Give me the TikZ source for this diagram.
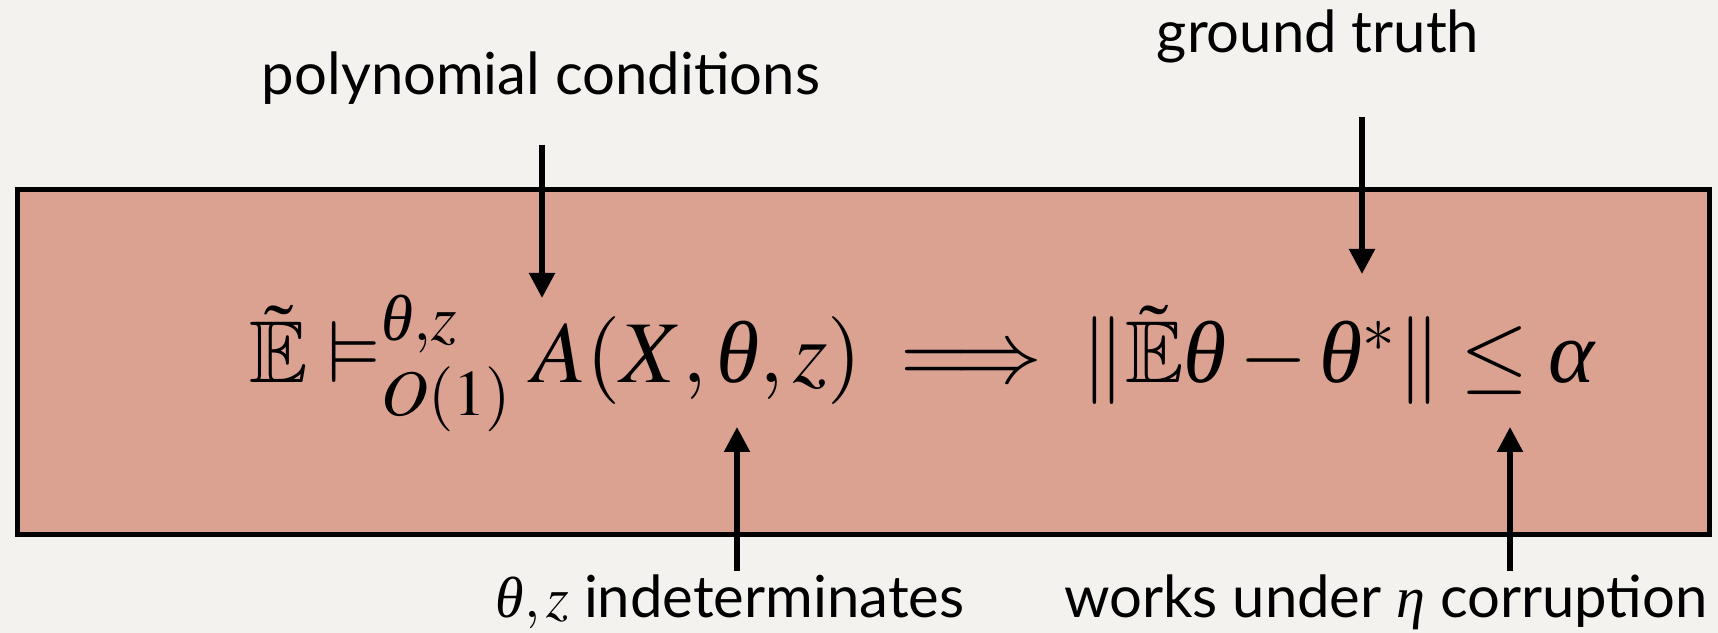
\documentclass[tikz,border=0pt]{standalone}
\usepackage{amsmath}
\usepackage{amssymb}
\usepackage{mathptmx}
\usepackage[no-math]{fontspec}
\setmainfont{Lato}
\newfontfamily\libserif{Liberation Serif}[NFSSFamily=libserif]
% thin Times-like Greek letters for the formulas
\DeclareSymbolFont{libgreek}{TU}{libserif}{m}{it}
\Umathchardef\theta="0 \symlibgreek "03B8
\Umathchardef\alpha="0 \symlibgreek "03B1
\Umathchardef\eta="0 \symlibgreek "03B7
\usepackage{tikz}
\usetikzlibrary{arrows.meta, positioning, calc}
\definecolor{mypaper}{RGB}{243,242,239}
\definecolor{mysalmon}{RGB}{219,162,145}
\definecolor{mydark}{RGB}{0,0,0}
\tikzset{
  note/.style={font=\fontsize{16.5}{20}\selectfont, inner sep=0pt, text=mydark},
  formula/.style={font=\fontsize{25}{30}\selectfont, inner sep=0pt, text=mydark},
  pointer/.style={-{Triangle[length=2.5mm, width=2.5mm]}, line width=1.5pt, color=mydark},
  panel/.style={draw=mydark, fill=mysalmon, line width=1.5pt}
}

\begin{document}
\begin{tikzpicture}
  % Paper background
  \fill[mypaper] (0,0) rectangle (17.18,6.33);

  % Main panel
  \draw[panel] (0.175,0.985) rectangle (17.095,4.435);

  % Statement
  \node[formula, anchor=base] (stmt) at (9.22,2.50)
    {$\tilde{\mathbb{E}} \vDash^{\theta,z}_{O(1)} A(X,\theta,z) \implies \|\tilde{\mathbb{E}}\theta-\theta^*\| \le \alpha$};

  % Labels above
  \node[note, anchor=base] (poly) at (5.41,5.38) {polynomial conditions};
  \node[note, anchor=base] (truth) at (13.18,5.80) {ground truth};

  % Labels below
  \node[note, anchor=base] (indet) at (7.30,0.15) {$\theta,z$ indeterminates};
  \node[note, anchor=base] (corrupt) at (13.86,0.15) {works under $\eta$ corruption};

  % Arrow tips
  \coordinate (polyTip) at (5.42,3.35);
  \coordinate (truthTip) at (13.62,3.59);
  \coordinate (indetTip) at (7.37,2.06);
  \coordinate (corruptTip) at (15.10,2.06);

  % Pointers
  \draw[pointer, shorten <=0.39cm] (poly.south -| polyTip) -- (polyTip);
  \draw[pointer, shorten <=0.53cm] (truth.south -| truthTip) -- (truthTip);
  \draw[pointer, shorten <=0.04cm] (indet.north -| indetTip) -- (indetTip);
  \draw[pointer, shorten <=0.04cm] (corrupt.north -| corruptTip) -- (corruptTip);
\end{tikzpicture}
\end{document}
